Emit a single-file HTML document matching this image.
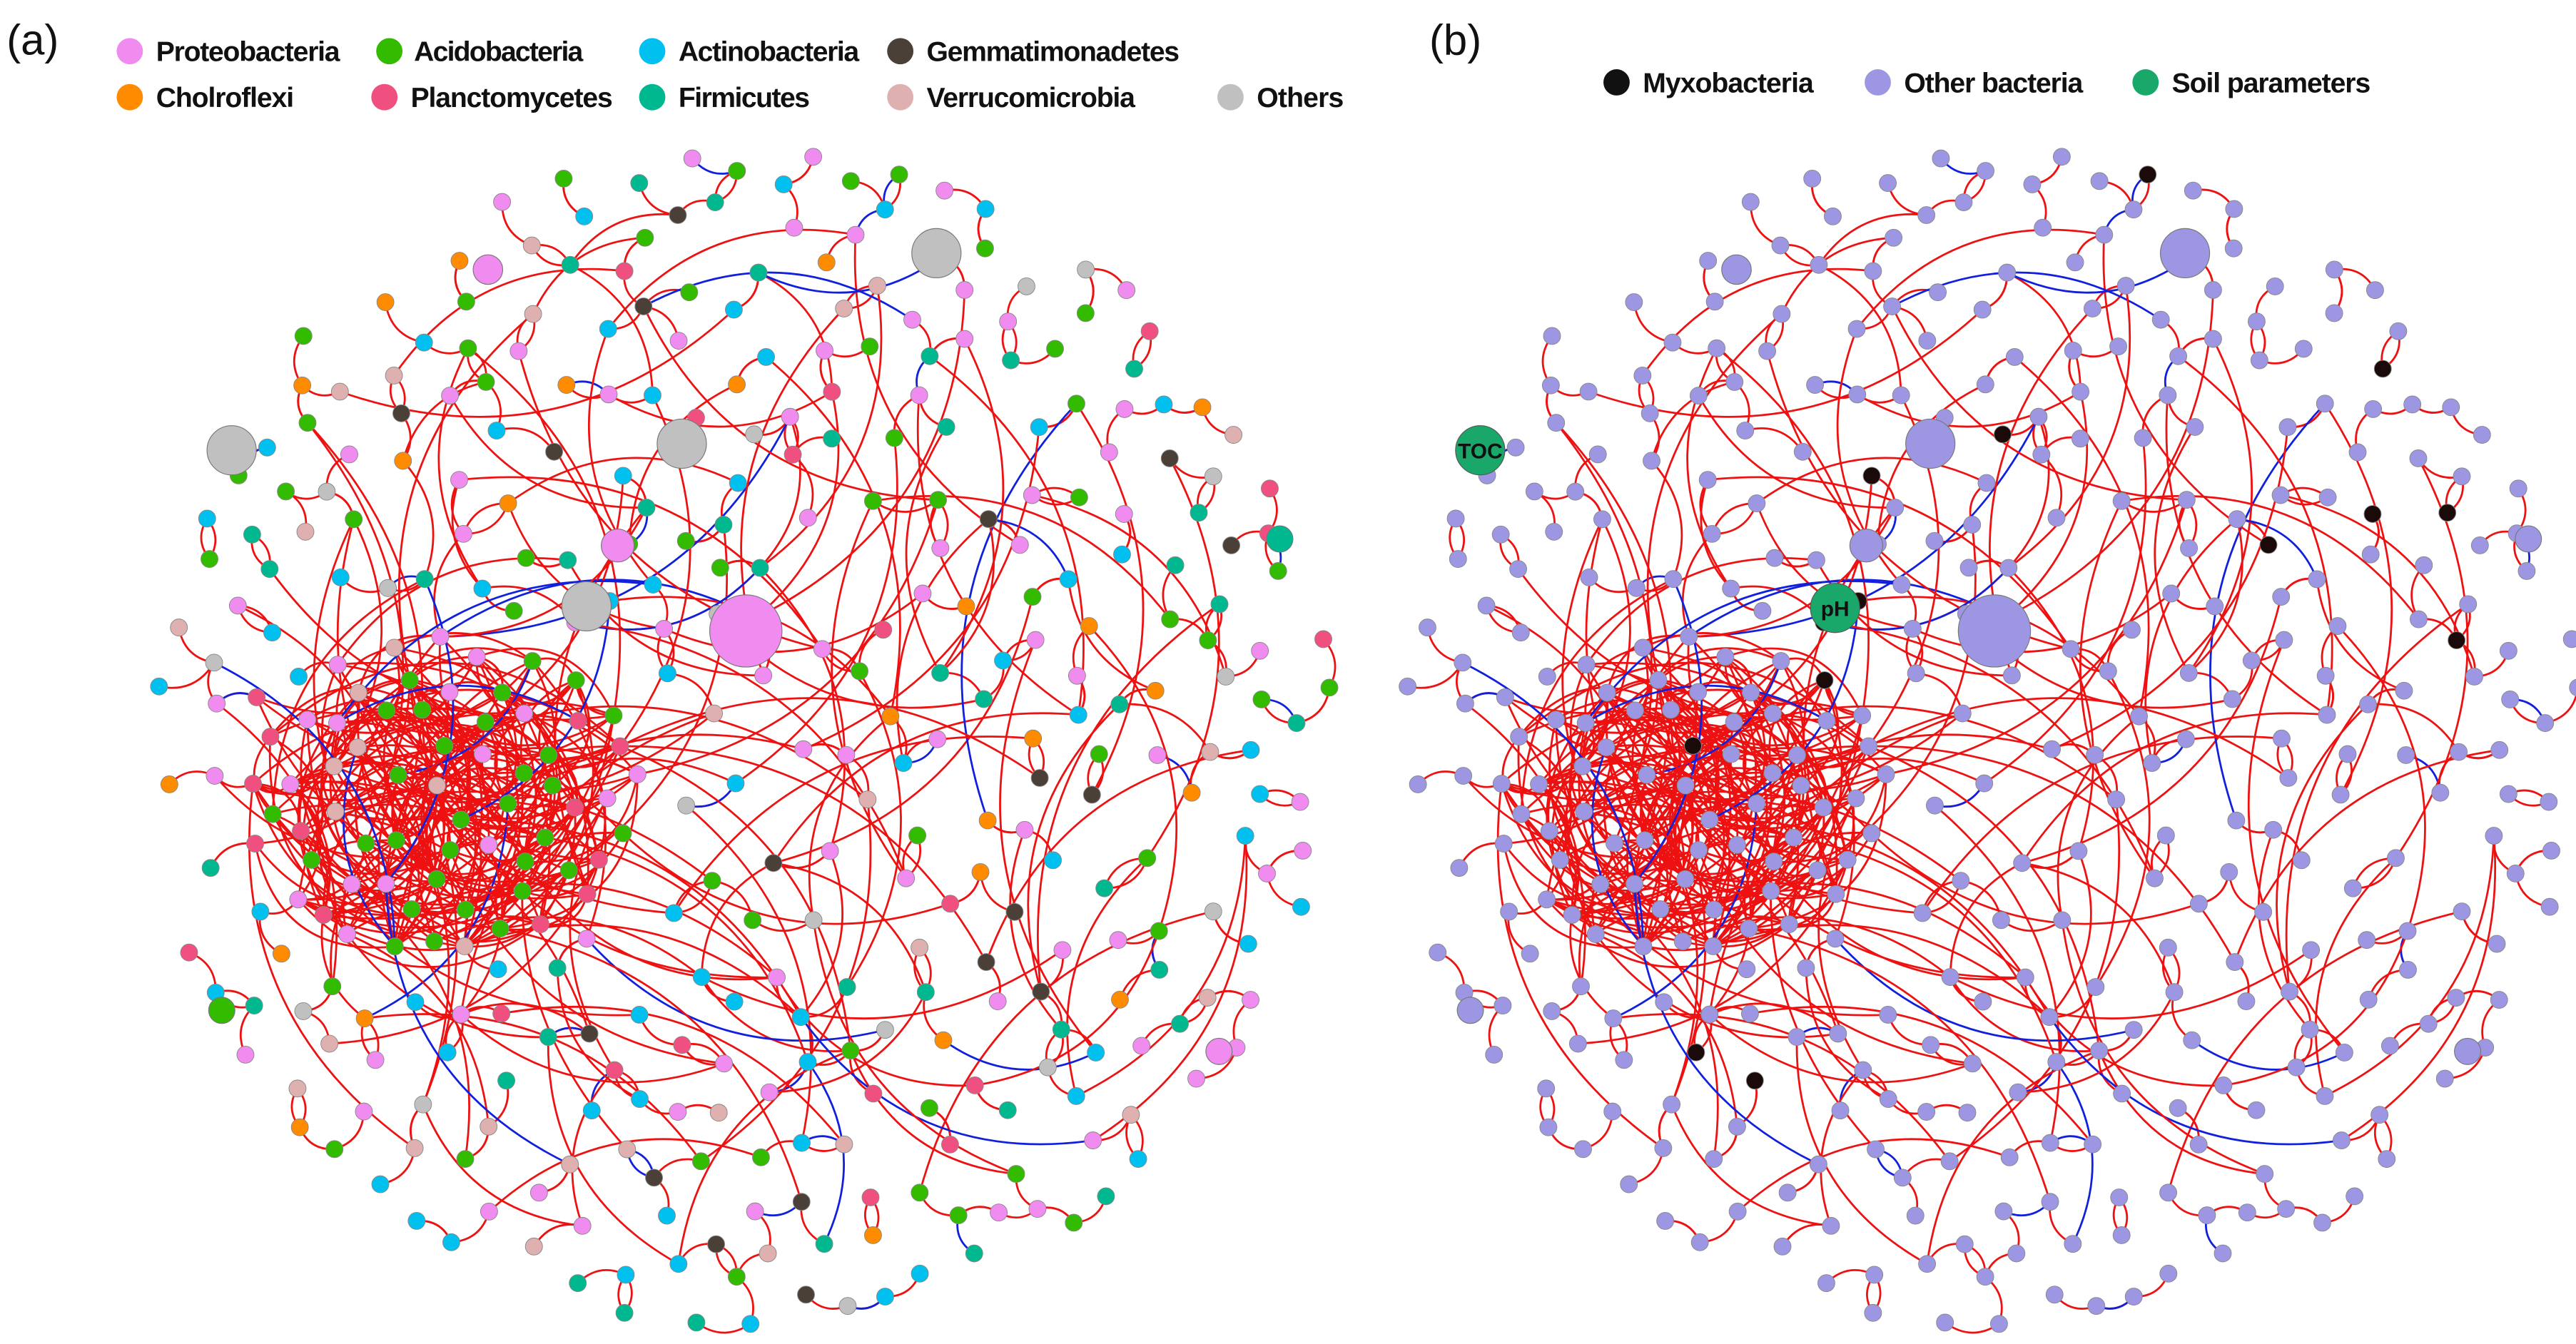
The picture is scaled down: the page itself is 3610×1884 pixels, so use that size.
<!DOCTYPE html>
<html><head><meta charset="utf-8">
<style>
html,body{margin:0;padding:0;background:#fff;}
svg{display:block;}
text{font-family:"Liberation Sans",sans-serif;}
</style></head>
<body>
<svg id="s" width="3610" height="1884" viewBox="0 0 1568 818" xmlns="http://www.w3.org/2000/svg">
<rect width="1568" height="818" fill="#fff"/>
<g id="net"></g>
<g id="big"></g>
<g font-size="17" font-weight="bold" fill="#111">
<text x="4" y="33" font-size="26" font-weight="normal">(a)</text>
<text x="870" y="33" font-size="26" font-weight="normal">(b)</text>
<circle cx="79" cy="31" r="8" fill="#f08cf0"/><text x="95" y="37" textLength="112">Proteobacteria</text>
<circle cx="237" cy="31" r="8" fill="#33bb00"/><text x="252" y="37" textLength="103">Acidobacteria</text>
<circle cx="397" cy="31" r="8" fill="#00c0f0"/><text x="413" y="37" textLength="110">Actinobacteria</text>
<circle cx="548" cy="31" r="8" fill="#4a4038"/><text x="564" y="37" textLength="154">Gemmatimonadetes</text>
<circle cx="79" cy="59" r="8" fill="#ff8c00"/><text x="95" y="65" textLength="84">Cholroflexi</text>
<circle cx="234" cy="59" r="8" fill="#f05080"/><text x="250" y="65" textLength="123">Planctomycetes</text>
<circle cx="397" cy="59" r="8" fill="#00b890"/><text x="413" y="65" textLength="80">Firmicutes</text>
<circle cx="548" cy="59" r="8" fill="#dfb0b0"/><text x="564" y="65" textLength="127">Verrucomicrobia</text>
<circle cx="749" cy="59" r="8" fill="#c0c0c0"/><text x="765" y="65" textLength="53">Others</text>
<circle cx="984" cy="50" r="8" fill="#111"/><text x="1000" y="56" textLength="104">Myxobacteria</text>
<circle cx="1143" cy="50" r="8" fill="#9d97e3"/><text x="1159" y="56" textLength="109">Other bacteria</text>
<circle cx="1306" cy="50" r="8" fill="#1aa86a"/><text x="1322" y="56" textLength="121">Soil parameters</text>
</g>
</svg>
<script>
(function(){
var seed=12345;function R(){seed|=0;seed=seed+0x6D2B79F5|0;var t=Math.imul(seed^seed>>>15,1|seed);t=t+Math.imul(t^t>>>7,61|t)^t;return((t^t>>>14)>>>0)/4294967296;}
var N=[];
function ok(x,y,m){for(var i=0;i<N.length;i++){var dx=N[i].x-x,dy=N[i].y-y;if(dx*dx+dy*dy<m*m)return false;}return true;}
var cl=[];
for(var k=0;k<2000&&cl.length<65;k++){var a=R()*6.283,r=Math.sqrt(R())*115;var x=270+Math.cos(a)*r*1.05,y=485+Math.sin(a)*r*0.85;if(ok(x,y,18)){var c=R()<0.55?'#33bb00':(R()<0.5?'#f08cf0':(R()<0.5?'#f05080':'#dfb0b0'));var n={x:x,y:y,c:c,cl:1};N.push(n);cl.push(n);}}
var cols=['#f08cf0','#f08cf0','#f08cf0','#f08cf0','#33bb00','#33bb00','#33bb00','#00c0f0','#00c0f0','#00c0f0','#4a4038','#ff8c00','#f05080','#00b890','#00b890','#dfb0b0','#c0c0c0'];
for(var k=0;k<30000&&N.length<400;k++){var a=R()*6.283,r=Math.pow(R(),0.4)*362;var x=450+Math.cos(a)*r,y=448+Math.sin(a)*r*0.99;if(ok(x,y,23)){N.push({x:x,y:y,c:cols[Math.floor(R()*cols.length)]});}}
var E=[];
function d2(a,b){var dx=a.x-b.x,dy=a.y-b.y;return dx*dx+dy*dy;}
for(var i=0;i<220;i++){var a=cl[Math.floor(R()*cl.length)],b=cl[Math.floor(R()*cl.length)];if(a!==b)E.push([a,b,'#ee1111',0.45]);}
for(var i=0;i<N.length;i++){var a=N[i];if(a.cl)continue;var best=null,bd=1e9;for(var j=0;j<N.length;j++){if(j==i)continue;var d=d2(a,N[j]);if(d<bd){bd=d;best=N[j];}}E.push([a,best,R()<0.1?'#1020dd':'#ee1111',0.35]);}
for(var i=0;i<700;i++){var a=N[Math.floor(R()*N.length)],b=N[Math.floor(R()*N.length)];var d=Math.sqrt(d2(a,b));var ra=Math.hypot(a.x-450,a.y-448),rb=Math.hypot(b.x-450,b.y-448);if(a!==b&&d>60&&d<260&&ra<320&&rb<330){E.push([a,b,R()<0.12?'#1020dd':'#ee1111',0.3]);}}
var s='';
function draw(off,pal){
E.forEach(function(e,idx){var a=e[0],b=e[1];var mx=(a.x+b.x)/2,my=(a.y+b.y)/2,dx=b.x-a.x,dy=b.y-a.y;var f=(idx%2?e[3]:-e[3]);var cx=mx-dy*f,cy=my+dx*f;
s+='<path d="M'+(a.x+off).toFixed(1)+' '+a.y.toFixed(1)+'Q'+(cx+off).toFixed(1)+' '+cy.toFixed(1)+' '+(b.x+off).toFixed(1)+' '+b.y.toFixed(1)+'" fill="none" stroke="'+e[2]+'" stroke-width="1.2"/>';});
N.forEach(function(n,i){s+='<circle cx="'+(n.x+off).toFixed(1)+'" cy="'+n.y.toFixed(1)+'" r="5.2" fill="'+pal(n,i)+'" stroke="#888" stroke-width="0.4"/>';});
}
draw(0,function(n){return n.c;});
draw(760,function(n,i){return (i%29==7)?'#1a0a0a':'#9d97e3';});
document.getElementById('net').innerHTML=s;
var b='';
[[141,274,15,'#c0c0c0'],[415,270,15,'#c0c0c0'],[570,154,15,'#c0c0c0'],[357,369,15,'#c0c0c0'],[454,384,22,'#f08cf0'],[376,332,10,'#f08cf0'],[297,164,9,'#f08cf0'],[779,328,8,'#00b890'],[135,615,8,'#33bb00'],[742,640,8,'#f08cf0'],
[1330,154,15,'#9d97e3'],[1175,270,15,'#9d97e3'],[1214,384,22,'#9d97e3'],[1136,332,10,'#9d97e3'],[1057,164,9,'#9d97e3'],[1539,328,8,'#9d97e3'],[895,615,8,'#9d97e3'],[1502,640,8,'#9d97e3']].forEach(function(c){b+='<circle cx="'+c[0]+'" cy="'+c[1]+'" r="'+c[2]+'" fill="'+c[3]+'" stroke="#777" stroke-width="0.5"/>';});
b+='<circle cx="901" cy="274" r="15" fill="#1aa86a" stroke="#555" stroke-width="0.5"/><text x="901" y="279" font-size="13" font-weight="bold" text-anchor="middle" fill="#111">TOC</text>';
b+='<circle cx="1117" cy="370" r="15" fill="#1aa86a" stroke="#555" stroke-width="0.5"/><text x="1117" y="375" font-size="13" font-weight="bold" text-anchor="middle" fill="#111">pH</text>';
document.getElementById('big').innerHTML=b;
})();
</script>
</body></html>
